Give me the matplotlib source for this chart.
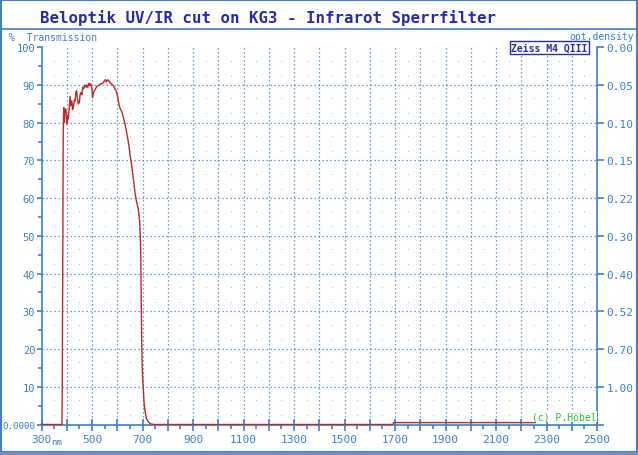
import matplotlib
matplotlib.use("Agg")
import matplotlib.pyplot as plt
from matplotlib.lines import Line2D
from matplotlib.patches import Rectangle
import numpy as np

# measured transmission curve (nm, %)
wavelength = [300, 381, 382, 384, 386, 388, 390, 393, 397, 400, 403, 406, 410, 413, 416, 420,
              423, 426, 430, 433, 436, 439, 442, 446, 450, 453, 456, 460, 463, 467, 472, 476,
              479, 483, 488, 491, 495, 499, 502, 506, 510, 514, 519, 524, 529, 534, 538, 542,
              546, 549, 553, 557, 561, 565, 569, 574, 579, 584, 589, 595, 600, 604, 608, 613,
              618, 624, 631, 637, 644, 651, 657, 664, 670, 677, 683, 689, 691, 693, 695, 697,
              699, 701, 703, 706, 710, 716, 723, 732, 745, 1692, 1694, 2255]
transmission = [0, 0, 8, 38, 77, 84, 80, 83.6, 83.5, 79.7, 82, 81, 84, 87, 84.5, 85.8,
                83.5, 84, 86, 85.8, 88, 88.5, 86.5, 85, 85.4, 87.5, 88, 87.4, 89.4, 89, 90, 89.4,
                90, 89.4, 90.5, 89.9, 90.3, 89.4, 86.7, 88, 88.6, 89, 89.6, 89.8, 90, 90.3, 90.3, 90.5,
                90.6, 91.2, 91.4, 90.8, 91.4, 91.2, 90.9, 90.5, 90.2, 89.8, 89.2, 88.5, 87.5, 86, 84.5, 83.5,
                83, 81.5, 79.5, 77.5, 74.9, 71.3, 68.7, 65.1, 61.6, 58.9, 57.2, 53.6, 50, 45.9, 33.5, 21.2,
                15, 12, 9.7, 6, 3.5, 1.5, 0.7, 0.2, 0, 0, 0.5, 0.5]

y_ticks = [0, 10, 20, 30, 40, 50, 60, 70, 80, 90, 100]
y_labels = ["0.0000", "10", "20", "30", "40", "50", "60", "70", "80", "90", "100"]
od_labels = ["", "1.00", "0.70", "0.52", "0.40", "0.30", "0.22", "0.15", "0.10", "0.05", "0.00"]
x_labels = [300, 500, 700, 900, 1100, 1300, 1500, 1700, 1900, 2100, 2300, 2500]

blue = "#3c82cc"
dark = "#2a2aa8"
mono = "DejaVu Sans Mono"

W, H = 638, 456
fig = plt.figure(figsize=(W / 100, H / 100), dpi=100)
fig.patch.set_facecolor("white")

def fx(px):
    return px / W

def fy(py):
    return 1 - py / H

ax = fig.add_axes([fx(41.5), fy(425.5), fx(597) - fx(41.5), fy(48.3) - fy(425.5)])
ax.set_xlim(300, 2500)
ax.set_ylim(0, 100)

# grid: dotted lines every 100 nm / 10 %
for x in range(400, 2500, 100):
    ax.axvline(x, color=blue, lw=0.9, ls=(0, (1, 2.2)), zorder=1)
for y in range(10, 100, 10):
    ax.axhline(y, color=blue, lw=0.9, ls=(0, (1, 2.2)), zorder=1)
# small dots in between
dx = np.arange(350, 2500, 100)
for yb in range(0, 100, 10):
    for off in (2.5, 6.5):
        ax.plot(dx, np.full(len(dx), yb + off), ls="none", marker="s", ms=0.6,
                mew=0, color="#8fb4dc", zorder=1)

ax.plot(wavelength, transmission, color="#c02828", lw=1.0, zorder=3, clip_on=False)

ax.spines["top"].set_visible(False)
for s in ("left", "right", "bottom"):
    ax.spines[s].set_color(blue)
    ax.spines[s].set_linewidth(1.2)

ax.set_yticks(y_ticks)
ax.set_yticklabels(y_labels)
ax.set_yticks(range(5, 100, 10), minor=True)
ax.set_xticks(range(300, 2501, 100))
ax.set_xticklabels([str(v) if v in x_labels else "" for v in range(300, 2501, 100)])
ax.set_xticks(range(350, 2500, 100), minor=True)
ax.tick_params(axis="y", which="major", length=3.5, width=1.2, color=blue, labelcolor=blue,
               labelsize=7.5, pad=1)
ax.tick_params(axis="y", which="minor", length=3, width=1.2, color=blue)
ax.tick_params(axis="x", which="major", direction="inout", length=9, width=1.2, color=blue,
               labelcolor=blue, labelsize=8, pad=2)
ax.tick_params(axis="x", which="minor", length=3, width=1.2, color=blue)
for lab in ax.get_xticklabels() + ax.get_yticklabels():
    lab.set_family(mono)
ax.get_yticklabels()[0].set_fontsize(6.6)

ax2 = ax.twinx()
ax2.set_ylim(0, 100)
ax2.set_yticks(y_ticks)
ax2.set_yticklabels(od_labels)
ax2.tick_params(axis="y", length=5, width=1.2, color=blue, labelcolor=blue, labelsize=8, pad=2)
for lab in ax2.get_yticklabels():
    lab.set_family(mono)
for s in ax2.spines.values():
    s.set_visible(False)

ax.text(2312, 100, "Zeiss M4 QIII", ha="center", va="center", fontsize=7, family=mono,
        fontweight="bold", color=dark, zorder=5, clip_on=False,
        bbox=dict(boxstyle="square,pad=0.15", fc="white", ec=dark, lw=1.0))
ax.text(2500, 0.8, "(c) P.Höbel", ha="right", va="bottom", fontsize=7, family=mono,
        color="#33bb33", zorder=5,
        bbox=dict(boxstyle="square,pad=0.05", fc="white", ec="none"))

fig.text(fx(51), fy(443), "nm", fontsize=6.5, family=mono, color=blue, va="center", ha="left")
fig.text(fx(40), fy(18), "Beloptik UV/IR cut on KG3 - Infrarot Sperrfilter", fontsize=11.3,
         family=mono, fontweight="bold", color=dark, va="center", ha="left")
fig.text(fx(9), fy(38), "%  Transmission", fontsize=7, family=mono, color=blue,
         va="center", ha="left")
fig.text(fx(634), fy(37), "opt.density", fontsize=7, family=mono, color=blue,
         va="center", ha="right")

# frame around the picture and the title band
fig.add_artist(Rectangle((fx(1), fy(453)), fx(636), fy(1) - fy(453), fill=False,
                         ec=blue, lw=1.5, transform=fig.transFigure))
fig.add_artist(Line2D([fx(1), fx(637)], [fy(30), fy(30)], color=blue, lw=1.2,
                      transform=fig.transFigure))
fig.add_artist(Rectangle((0, 0), 1, fy(453), fc="#6f8fb8", ec="none",
                         transform=fig.transFigure))

fig.savefig("out.png", dpi=100, facecolor="white")
